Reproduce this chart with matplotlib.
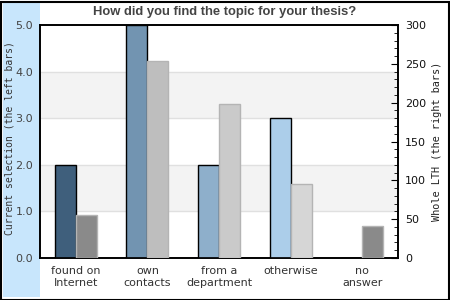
import numpy as np
import matplotlib.pyplot as plt
from matplotlib.patches import Rectangle

categories = ["found on\nInternet", "own\ncontacts", "from a\ndepartment", "otherwise", "no\nanswer"]
current = [2, 5, 2, 3, 0]
whole = [55, 254, 198, 95, 41]

left_colors = ["#3f5f7c", "#7294b1", "#8eafcb", "#acceea", "#8a8a8a"]
right_colors = ["#8a8a8a", "#bebebe", "#cacaca", "#d6d6d6", "#8a8a8a"]

fig = plt.figure(figsize=(4.5, 3), dpi=100)
fig.patch.set_facecolor("white")

# light blue strip on the left and outer frame
fig.add_artist(Rectangle((3/450, 3/300), 37/450, 294/300, transform=fig.transFigure,
                         facecolor="#c8e6fc", edgecolor="none", zorder=-10))
fig.add_artist(Rectangle((0.5/450, 0.5/300), 448/450, 298/300, transform=fig.transFigure,
                         facecolor="none", edgecolor="black", linewidth=1.5, zorder=5))

ax = fig.add_axes([40/450, 42/300, 358/450, 233/300])
ax.patch.set_alpha(0)
x = np.arange(len(categories))
w = 0.293

# background bands and grid lines
for lo in (1, 3):
    ax.axhspan(lo, lo + 1, color="#f3f3f3", zorder=0, linewidth=0)
for g in (1, 2, 3, 4):
    ax.axhline(g, color="#e0e0e0", linewidth=1, zorder=0.5)

ax.bar(x - w / 2, current, width=w, color=left_colors, edgecolor="black", linewidth=1, zorder=3)
ax.set_ylim(0, 5)
ax.set_xlim(-0.5, len(categories) - 0.5)
ax.set_yticks([0, 1, 2, 3, 4, 5])
ax.set_yticklabels(["0.0", "1.0", "2.0", "3.0", "4.0", "5.0"])
ax.tick_params(axis="y", length=0, pad=5, labelsize=8, labelcolor="#444444")
ax.set_xticks(x)
ax.set_xticklabels(categories)
ax.tick_params(axis="x", length=0, pad=6, labelsize=8, labelcolor="#333333")
ax.set_ylabel("Current selection (the left bars)", family="DejaVu Sans Mono", fontsize=7,
              color="#333333")
ax.yaxis.set_label_coords(-25/358, 0.515)

ax2 = ax.twinx()
ax2.bar(x + w / 2, whole, width=w, color=right_colors, edgecolor="#b4b4b4", linewidth=1, zorder=3)
ax2.set_ylim(0, 300)
ax2.set_yticks(np.arange(0, 301, 50))
ax2.set_yticks(np.arange(0, 301, 10), minor=True)
ax2.tick_params(axis="y", which="major", direction="in", length=5, pad=5, labelsize=8,
                labelcolor="#111111")
ax2.tick_params(axis="y", which="minor", direction="in", length=3)
ax2.set_ylabel("Whole LTH (the right bars)", family="DejaVu Sans Mono", fontsize=7.4,
               color="#222222")
ax2.yaxis.set_label_coords(1 + 34/358, 0.5)

for a in (ax, ax2):
    for s in a.spines.values():
        s.set_linewidth(1.2)
        s.set_color("black")

fig.text(225/450, 1 - 12/300, "How did you find the topic for your thesis?", ha="center", va="center",
         family="Liberation Sans", fontweight="bold", fontsize=9.4, color="#444444")

fig.savefig("out.png", dpi=100)
